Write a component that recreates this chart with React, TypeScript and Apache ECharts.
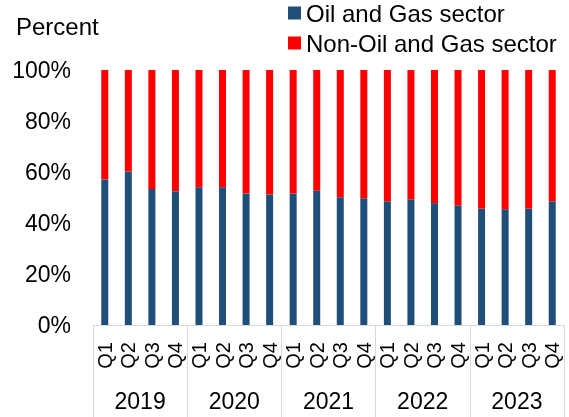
import React, { useEffect, useRef } from "react";
import * as echarts from "echarts";

const quarters = ["Q1","Q2","Q3","Q4","Q1","Q2","Q3","Q4","Q1","Q2","Q3","Q4","Q1","Q2","Q3","Q4","Q1","Q2","Q3","Q4"];
const years = ["2019", "2020", "2021", "2022", "2023"];
const oilGas = [57.1, 60.2, 53.3, 52.5, 54.0, 54.0, 51.6, 51.2, 51.6, 52.7, 50.1, 49.7, 48.5, 49.3, 47.8, 46.9, 45.7, 45.4, 45.7, 48.5];
const nonOilGas = [42.9, 39.8, 46.7, 47.5, 46.0, 46.0, 48.4, 48.8, 48.4, 47.3, 49.9, 50.3, 51.5, 50.7, 52.2, 53.1, 54.3, 54.6, 54.3, 51.5];
const yTicks = [0, 20, 40, 60, 80, 100];

const FONT = "'Liberation Sans', Arial, sans-serif";

export default function App() {
  const ref = useRef<HTMLDivElement>(null);
  useEffect(() => {
    if (!ref.current) return;
    const chart = echarts.init(ref.current, undefined, { renderer: "svg" });
    chart.setOption({
      animation: false,
      textStyle: { fontFamily: FONT },
      legend: {
        orient: "vertical",
        left: 288,
        top: 1,
        padding: 0,
        itemWidth: 13,
        itemHeight: 13,
        itemGap: 6,
        icon: "rect",
        textStyle: { fontSize: 24, color: "#000", fontFamily: FONT },
        data: ["Oil and Gas sector", "Non-Oil and Gas sector"],
      },
      graphic: [
        {
          type: "text",
          left: 16,
          top: 14,
          style: { text: "Percent", fontSize: 24, fill: "#000", fontFamily: FONT },
        },
      ],
      grid: { left: 93, right: 5, top: 70, bottom: 92, containLabel: false },
      xAxis: [
        {
          type: "category",
          data: quarters,
          axisLine: { show: true, lineStyle: { color: "#d9d9d9", width: 1 } },
          axisTick: { show: false },
          axisLabel: {
            rotate: 90,
            interval: 0,
            margin: 17,
            fontSize: 20,
            color: "#000",
            fontFamily: FONT,
          },
        },
        {
          type: "category",
          data: years,
          position: "bottom",
          axisLine: { show: false },
          axisTick: { show: true, length: 92, interval: 0, lineStyle: { color: "#d9d9d9", width: 1 } },
          axisLabel: { margin: 64, fontSize: 23, color: "#000", interval: 0, fontFamily: FONT },
        },
      ],
      yAxis: {
        type: "value",
        min: yTicks[0],
        max: yTicks[yTicks.length - 1],
        interval: 20,
        axisLine: { show: false },
        axisTick: { show: false },
        splitLine: { show: false },
        axisLabel: { formatter: "{value}%", fontSize: 23, color: "#000", margin: 22, fontFamily: FONT },
      },
      series: [
        {
          name: "Oil and Gas sector",
          type: "bar",
          stack: "total",
          barWidth: 7,
          data: oilGas,
          itemStyle: { color: "#1F4E79" },
        },
        {
          name: "Non-Oil and Gas sector",
          type: "bar",
          stack: "total",
          barWidth: 7,
          data: nonOilGas,
          itemStyle: { color: "#FF0000" },
        },
      ],
    });
    return () => chart.dispose();
  }, []);
  return (
    <div
      ref={ref}
      style={{ position: "fixed", left: 0, top: 0, width: 569, height: 417 }}
    />
  );
}
